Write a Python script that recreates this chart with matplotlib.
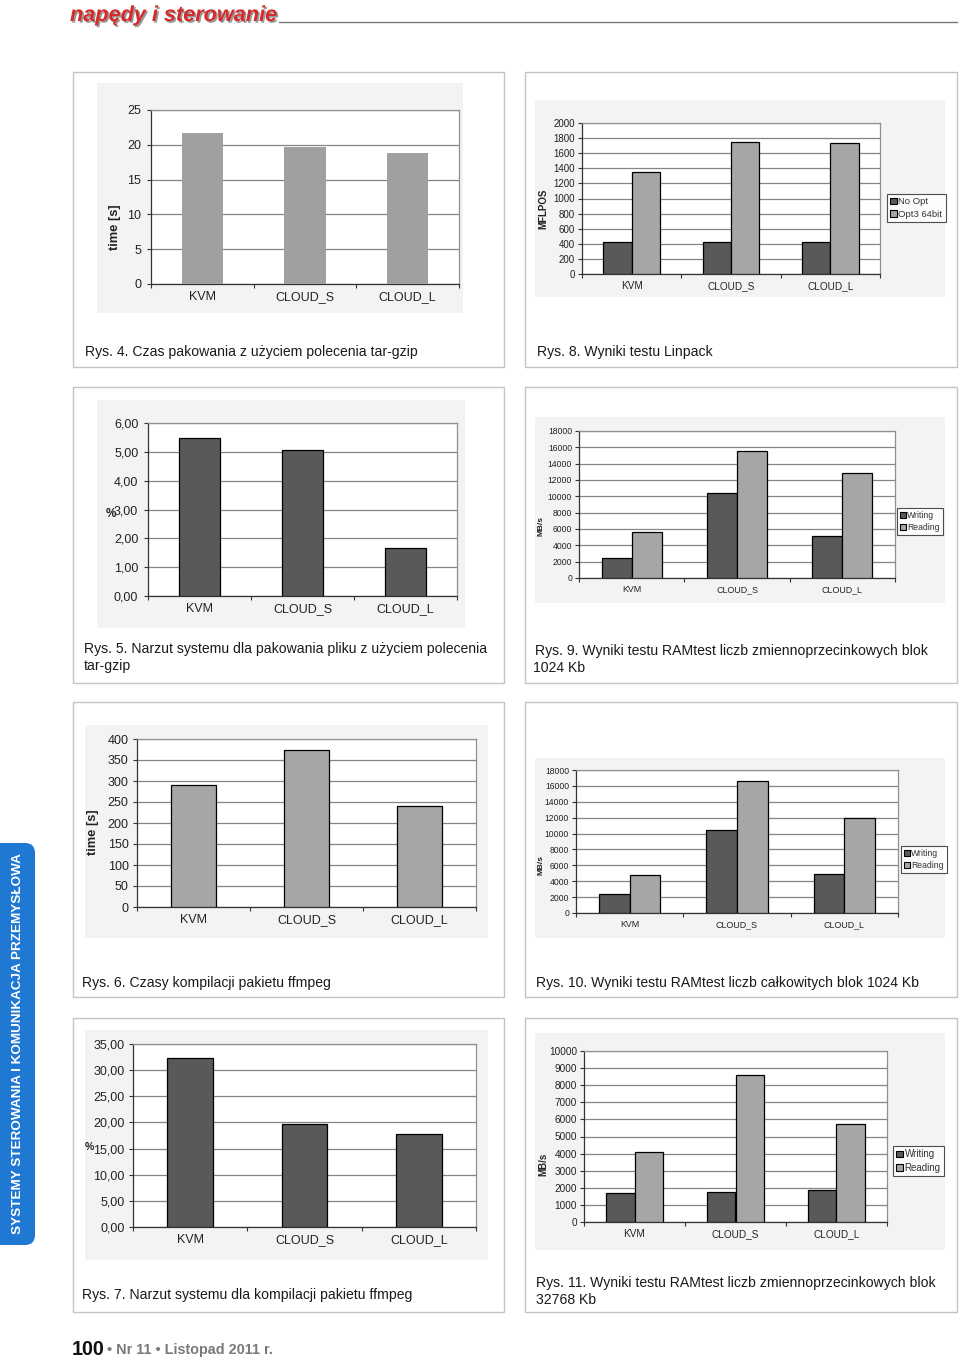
import matplotlib
matplotlib.use('Agg')
import matplotlib.pyplot as plt
from matplotlib.patches import Rectangle, FancyBboxPatch, Patch
from matplotlib.ticker import FuncFormatter
import matplotlib.patheffects as pe
import numpy as np

plt.rcParams['font.family'] = ['Liberation Sans', 'DejaVu Sans']

# ---------------- data ----------------
categories = ['KVM', 'CLOUD_S', 'CLOUD_L']
tar_time = [21.75, 19.75, 18.8]
tar_overhead = [5.48, 5.06, 1.66]
ffmpeg_time = [290, 375, 241]
ffmpeg_overhead = [32.25, 19.65, 17.8]
linpack_noopt = [430, 430, 430]
linpack_opt3 = [1350, 1748, 1740]
ram_float_1024_write = [2450, 10450, 5100]
ram_float_1024_read = [5670, 15600, 12900]
ram_int_1024_write = [2400, 10500, 4950]
ram_int_1024_read = [4830, 16600, 11950]
ram_float_32768_write = [1710, 1770, 1870]
ram_float_32768_read = [4100, 8620, 5720]
linpack_labels = ['No Opt', 'Opt3 64bit']
ram_labels = ['Writing', 'Reading']

W, H = 960, 1357
fig = plt.figure(figsize=(9.6, 13.57), dpi=100)

# background / decoration axes in pixel coordinates
bg = fig.add_axes([0, 0, 1, 1])
bg.set_xlim(0, W)
bg.set_ylim(H, 0)
bg.axis('off')

DARK = '#595959'
LIGHT = '#a6a6a6'
CHART_BG = '#f3f3f3'

# panel frames
cols = [(73, 504), (525, 957)]
rows = [(72, 367), (387, 683), (702, 997), (1018, 1312)]
for (x0, x1) in cols:
    for (y0, y1) in rows:
        bg.add_patch(Rectangle((x0, y0), x1 - x0, y1 - y0, facecolor='white',
                               edgecolor='#c4c4c4', lw=1.0))

# chart background regions
chart_bgs = [(97, 83, 463, 313), (535, 100, 945, 297),
             (97, 400, 465, 628), (535, 417, 945, 603),
             (85, 725, 488, 938), (535, 758, 945, 938),
             (85, 1030, 488, 1260), (535, 1033, 945, 1250)]
for (x0, y0, x1, y1) in chart_bgs:
    bg.add_patch(Rectangle((x0, y0), x1 - x0, y1 - y0, facecolor=CHART_BG,
                           edgecolor='none'))

# header
bg.plot([279, 957], [22, 22], color='#7a7a7a', lw=1.0)
bg.text(70, 21, 'napędy i sterowanie', color='#d42a2a', fontsize=15.6,
        fontweight='bold', fontstyle='italic', ha='left', va='baseline',
        path_effects=[pe.withSimplePatchShadow(offset=(1.2, -1.2),
                                                shadow_rgbFace='#555555', alpha=0.6)])

# side tab
bg.add_patch(FancyBboxPatch((-20, 843), 55, 402,
                            boxstyle='round,pad=0,rounding_size=10',
                            facecolor='#1f78d1', edgecolor='none'))
bg.text(18, 1044, 'SYSTEMY STEROWANIA I KOMUNIKACJA PRZEMYSŁOWA', color='white',
        fontsize=9.7, fontweight='bold', rotation=90, ha='center', va='center')

# footer
bg.text(72, 1355, '100', fontsize=14.2, fontweight='bold', color='#111111',
        ha='left', va='baseline')
bg.text(107, 1354, '• Nr 11 • Listopad 2011 r.', fontsize=10.4, fontweight='bold',
        color='#7a7a7a', ha='left', va='baseline')

# captions
CAP_FS = 10.1
captions = [
    (85, 352, 'Rys. 4. Czas pakowania z użyciem polecenia tar-gzip'),
    (537, 352, 'Rys. 8. Wyniki testu Linpack'),
    (84, 649, 'Rys. 5. Narzut systemu dla pakowania pliku z użyciem polecenia'),
    (84, 666, 'tar-gzip'),
    (535, 651, 'Rys. 9. Wyniki testu RAMtest liczb zmiennoprzecinkowych blok'),
    (533, 668, '1024 Kb'),
    (82, 983, 'Rys. 6. Czasy kompilacji pakietu ffmpeg'),
    (536, 983, 'Rys. 10. Wyniki testu RAMtest liczb całkowitych blok 1024 Kb'),
    (82, 1295, 'Rys. 7. Narzut systemu dla kompilacji pakietu ffmpeg'),
    (536, 1283, 'Rys. 11. Wyniki testu RAMtest liczb zmiennoprzecinkowych blok'),
    (536, 1300, '32768 Kb'),
]
for (x, y, t) in captions:
    bg.text(x, y, t, fontsize=CAP_FS, color='#1a1a1a', ha='left', va='center')


def chart(px, ymax, step, decimals, tick_fs, cat_fs, series, colors, edge,
          width, ylabel=None, ylabel_xy=None, ylabel_fs=8, pct=None,
          legend=None, legend_labels=None, legend_fs=7, ypad=2):
    x0, y0, x1, y1 = px
    ax = fig.add_axes([x0 / W, 1 - y1 / H, (x1 - x0) / W, (y1 - y0) / H])
    ax.set_facecolor('white')
    n = len(series)
    xs = np.arange(len(categories))
    for i, (vals, col) in enumerate(zip(series, colors)):
        off = (i - (n - 1) / 2) * width
        ax.bar(xs + off, vals, width, color=col,
               edgecolor=edge if edge else 'none', linewidth=0.9 if edge else 0,
               zorder=3)
    ax.set_xlim(-0.5, len(categories) - 0.5)
    ax.set_ylim(0, ymax)
    ax.set_yticks(np.arange(0, ymax + step / 2, step))
    if decimals:
        ax.yaxis.set_major_formatter(FuncFormatter(
            lambda v, p: ('%.2f' % v).replace('.', ',')))
    else:
        ax.yaxis.set_major_formatter(FuncFormatter(lambda v, p: '%d' % round(v)))
    ax.set_xticks(xs)
    ax.set_xticklabels(categories, fontsize=cat_fs, color='#222222')
    ax.set_xticks(np.arange(-0.5, len(categories)), minor=True)
    ax.tick_params(axis='x', which='major', length=0, pad=5)
    ax.tick_params(axis='x', which='minor', length=3, width=0.8, color='#333333')
    ax.tick_params(axis='y', length=3, width=0.8, color='#333333', pad=ypad,
                   labelsize=tick_fs, labelcolor='#222222')
    ax.yaxis.grid(True, color='#858585', lw=0.9)
    ax.set_axisbelow(True)
    for s in ('top', 'right'):
        ax.spines[s].set_color('#909090')
        ax.spines[s].set_linewidth(0.9)
    for s in ('left', 'bottom'):
        ax.spines[s].set_color('#333333')
        ax.spines[s].set_linewidth(0.9)
    if ylabel:
        ax.set_ylabel(ylabel, fontsize=ylabel_fs, fontweight='bold', color='#222222',
                      va='center')
        lx, ly = ylabel_xy
        ax.yaxis.set_label_coords((lx - x0) / (x1 - x0), (y1 - ly) / (y1 - y0))
    if pct:
        bg.text(pct[0], pct[1], '%', fontsize=pct[2], fontweight='bold',
                color='#222222', ha='center', va='center')
    if legend:
        handles = [Patch(facecolor=c, edgecolor='black', linewidth=0.8)
                   for c in colors]
        lg = ax.legend(handles, legend_labels, loc='upper left',
                       bbox_to_anchor=legend, bbox_transform=bg.transData,
                       fontsize=legend_fs, frameon=True, fancybox=False,
                       edgecolor='#222222', borderpad=0.35, handlelength=0.7,
                       handleheight=0.7, handletextpad=0.15, labelspacing=0.35,
                       borderaxespad=0)
        lg.get_frame().set_linewidth(0.8)
        for t in lg.get_texts():
            t.set_color('#333333')
    return ax


# Rys. 4
chart((151, 110, 459, 284), 25, 5, False, 9, 9, [tar_time], ['#a0a0a0'], None,
      0.4, ylabel='time [s]', ylabel_xy=(115, 227), ylabel_fs=9.3, ypad=4)
# Rys. 8
chart((582, 123, 880, 274), 2000, 200, False, 7, 7.2,
      [linpack_noopt, linpack_opt3], [DARK, LIGHT], 'black', 0.285,
      ylabel='MFLPOS', ylabel_xy=(543, 209), ylabel_fs=7,
      legend=(887, 194), legend_labels=linpack_labels, legend_fs=6.8)
# Rys. 5
chart((148, 423, 457, 596), 6, 1, True, 9, 9, [tar_overhead], [DARK], 'black',
      0.4, pct=(111, 514, 8.5), ypad=4)
# Rys. 9
chart((579, 431, 895, 578), 18000, 2000, False, 6.2, 6.4,
      [ram_float_1024_write, ram_float_1024_read], [DARK, LIGHT], 'black', 0.285,
      ylabel='MB/s', ylabel_xy=(541, 526), ylabel_fs=6,
      legend=(897, 508), legend_labels=ram_labels, legend_fs=6.2)
# Rys. 6
chart((137, 739, 476, 907), 400, 50, False, 9, 9, [ffmpeg_time], [LIGHT], 'black',
      0.4, ylabel='time [s]', ylabel_xy=(93, 832), ylabel_fs=9.3, ypad=3)
# Rys. 10
chart((576, 770, 898, 913), 18000, 2000, False, 6.2, 6.4,
      [ram_int_1024_write, ram_int_1024_read], [DARK, LIGHT], 'black', 0.285,
      ylabel='MB/s', ylabel_xy=(541, 865), ylabel_fs=6,
      legend=(901, 846), legend_labels=ram_labels, legend_fs=6.2)
# Rys. 7
chart((133, 1044, 476, 1227), 35, 5, True, 9, 9, [ffmpeg_overhead], [DARK],
      'black', 0.4, pct=(89, 1147, 7.5), ypad=3)
# Rys. 11
chart((584, 1051, 887, 1222), 10000, 1000, False, 7.2, 7.2,
      [ram_float_32768_write, ram_float_32768_read], [DARK, LIGHT], 'black', 0.285,
      ylabel='MB/s', ylabel_xy=(543, 1164), ylabel_fs=7,
      legend=(893, 1146), legend_labels=ram_labels, legend_fs=7)

fig.savefig('out.png', dpi=100)
